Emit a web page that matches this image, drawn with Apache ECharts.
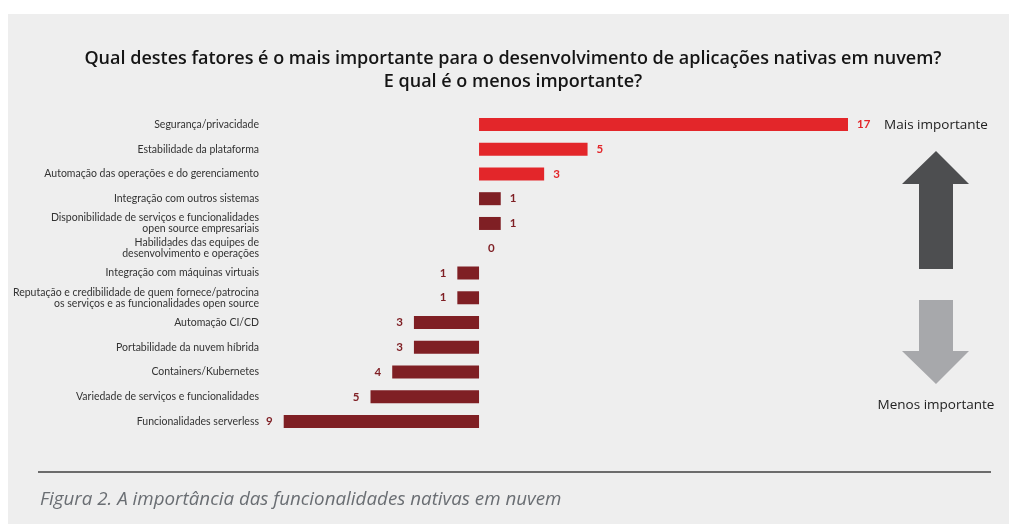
<!DOCTYPE html>
<html>
<head>
<meta charset="utf-8">
<script src="https://cdn.jsdelivr.net/npm/echarts@6/dist/echarts.min.js"></script>
<style>
  html, body { margin: 0; padding: 0; background: #ffffff; }
  #chart { width: 1009px; height: 524px; }
</style>
</head>
<body>
<div id="chart"></div>
<script>
// categorias (de cima para baixo)
const categories = [
  'Segurança/privacidade',
  'Estabilidade da plataforma',
  'Automação das operações e do gerenciamento',
  'Integração com outros sistemas',
  'Disponibilidade de serviços e funcionalidades\nopen source empresariais',
  'Habilidades das equipes de\ndesenvolvimento e operações',
  'Integração com máquinas virtuais',
  'Reputação e credibilidade de quem fornece/patrocina\nos serviços e as funcionalidades open source',
  'Automação CI/CD',
  'Portabilidade da nuvem híbrida',
  'Containers/Kubernetes',
  'Variedade de serviços e funcionalidades',
  'Funcionalidades serverless'
]
// positivo = mais importante, negativo = menos importante
const values = [17, 5, 3, 1, 1, 0, -1, -1, -3, -3, -4, -5, -9]
// quantos itens do topo ficam em vermelho claro
const highlightCount = 3

const RED = '#e3262a'
const DARK_RED = '#7f1f24'

function colorFor(i) {
  return i < highlightCount ? RED : DARK_RED
}

const chart = echarts.init(document.getElementById('chart'))

const barData = values.map((v, i) => ({
  value: v,
  itemStyle: { color: colorFor(i) },
  label: {
    position: v >= 0 ? 'right' : 'left',
    distance: v >= 0 ? 9 : 11,
    color: colorFor(i)
  }
}))

const option = {
  backgroundColor: '#ffffff',
  animation: false,
  grid: { left: 262, right: 161, top: 112, bottom: 90 },
  xAxis: {
    type: 'value',
    min: -10,
    max: 17,
    show: false
  },
  yAxis: {
    type: 'category',
    inverse: true,
    data: categories,
    axisLine: { show: false, onZero: false },
    axisTick: { show: false },
    splitLine: { show: false },
    axisLabel: {
      margin: 3,
      color: '#333333',
      fontSize: 10.5,
      lineHeight: 11,
      fontFamily: 'Lato, sans-serif',
      align: 'right'
    }
  },
  series: [
    {
      type: 'bar',
      barWidth: 13,
      data: barData,
      label: {
        show: true,
        fontSize: 11.5,
        fontWeight: 'bold',
        fontFamily: 'Lato, sans-serif',
        formatter: p => Math.abs(p.value)
      }
    }
  ],
  graphic: [
    // fundo cinza
    {
      type: 'rect', z: -10, silent: true,
      shape: { x: 8, y: 14, width: 1001, height: 510 },
      style: { fill: '#eeeeee' }
    },
    // título
    {
      type: 'text', x: 513, y: 47,
      style: {
        text: 'Qual destes fatores é o mais importante para o desenvolvimento de aplicações nativas em nuvem?\nE qual é o menos importante?',
        align: 'center',
        verticalAlign: 'top',
        lineHeight: 23,
        font: '600 18px "Open Sans", sans-serif',
        fill: '#151515'
      }
    },
    // legenda à direita
    {
      type: 'text', x: 936, y: 125,
      style: {
        text: 'Mais importante', align: 'center', verticalAlign: 'middle',
        font: '13.5px "Open Sans", sans-serif', fill: '#222222'
      }
    },
    {
      type: 'text', x: 936, y: 405,
      style: {
        text: 'Menos importante', align: 'center', verticalAlign: 'middle',
        font: '13.5px "Open Sans", sans-serif', fill: '#222222'
      }
    },
    // seta para cima
    {
      type: 'polygon',
      shape: { points: [[936, 151], [969, 184], [953, 184], [953, 269], [919, 269], [919, 184], [902, 184]] },
      style: { fill: '#4d4e50' }
    },
    // seta para baixo
    {
      type: 'polygon',
      shape: { points: [[919, 300], [953, 300], [953, 351], [969, 351], [936, 384], [902, 351], [919, 351]] },
      style: { fill: '#a7a8ab' }
    },
    // linha separadora
    {
      type: 'line',
      shape: { x1: 38, y1: 472, x2: 991, y2: 472 },
      style: { stroke: '#6b6b6b', lineWidth: 2 }
    },
    // legenda da figura
    {
      type: 'text', x: 40, y: 500,
      style: {
        text: 'Figura 2. A importância das funcionalidades nativas em nuvem',
        verticalAlign: 'middle',
        font: 'italic 18.8px "Open Sans", sans-serif',
        fill: '#6a6e73'
      }
    }
  ]
}

chart.setOption(option)
</script>
</body>
</html>
